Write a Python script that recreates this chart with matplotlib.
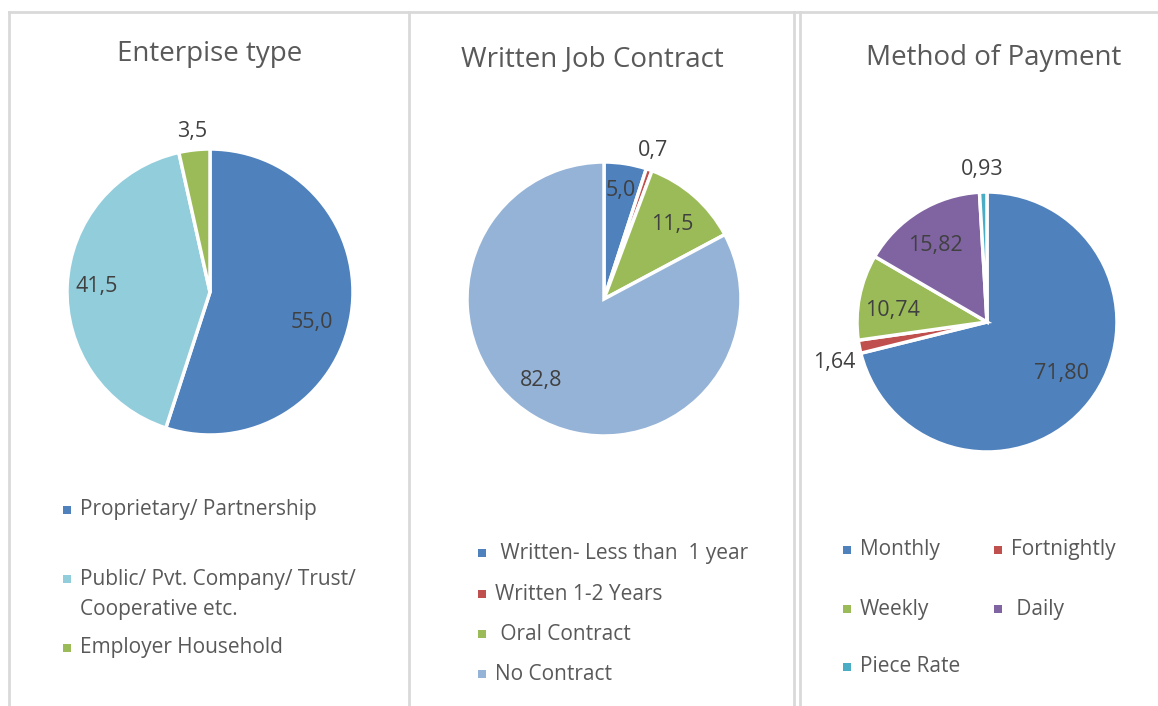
import numpy as np
import matplotlib
matplotlib.use("Agg")
import matplotlib.pyplot as plt
from matplotlib.patches import Rectangle

plt.rcParams['font.family'] = ['Open Sans', 'DejaVu Sans']

# data
ent_labels = ["Proprietary/ Partnership", "Public/ Pvt. Company/ Trust/\nCooperative etc.", "Employer Household"]
ent_values = [55.0, 41.5, 3.5]
ent_text = ["55,0", "41,5", "3,5"]

con_labels = [" Written- Less than  1 year", "Written 1-2 Years", " Oral Contract", "No Contract"]
con_values = [5.0, 0.7, 11.5, 82.8]
con_text = ["5,0", "0,7", "11,5", "82,8"]

pay_labels = ["Monthly", "Fortnightly", "Weekly", " Daily", "Piece Rate"]
pay_values = [71.80, 1.64, 10.74, 15.82, 0.93]
pay_text = ["71,80", "1,64", "10,74", "15,82", "0,93"]

BLUE, LBLUE, GREEN, RED, PURPLE, CYAN, PBLUE = "#4F81BD", "#92CDDC", "#9BBB59", "#C0504D", "#8064A2", "#4BACC6", "#95B3D7"
TXT = "#595959"
W, H = 1158, 706

fig = plt.figure(figsize=(W / 100, H / 100), dpi=100)
ax = fig.add_axes([0, 0, 1, 1])


def Y(y):
    return H - y


def draw_pie(values, colors, texts, center, radius, dist, shift):
    wedges, _ = ax.pie(values, colors=colors, startangle=90, counterclock=False,
                       center=(center[0], Y(center[1])), radius=radius, frame=True,
                       wedgeprops=dict(edgecolor="white", linewidth=2.5))
    for w, t, d, s in zip(wedges, texts, dist, shift):
        a = np.deg2rad((w.theta1 + w.theta2) / 2 + s)
        ax.text(center[0] + d * radius * np.cos(a), Y(center[1]) + d * radius * np.sin(a), t,
                ha="center", va="center", fontsize=15.5, color="#404040")


draw_pie(ent_values, [BLUE, LBLUE, GREEN], ent_text, (210, 292), 143,
         [0.74, 0.79, 1.13], [-7.5, 0, 0])
draw_pie(con_values, [BLUE, RED, GREEN, PBLUE], con_text, (604, 299), 137,
         [0.80, 1.14, 0.74, 0.75], [0, 1, -1.4, -6.5])
draw_pie(pay_values, [BLUE, RED, GREEN, PURPLE, CYAN], pay_text, (987, 322), 130,
         [0.70, 1.22, 0.73, 0.71, 1.17], [3.4, 4, 4.4, 2.5, 0])

# titles
ax.text(210, Y(54), "Enterpise type", ha="center", va="center", fontsize=20, color=TXT)
ax.text(592, Y(59), "Written Job Contract", ha="center", va="center", fontsize=20, color=TXT)
ax.text(994, Y(58), "Method of Payment", ha="center", va="center", fontsize=20, color=TXT)


def legend_item(x, y, color, label):
    ax.add_patch(Rectangle((x - 4, Y(y) - 4), 8, 8, color=color, lw=0))
    # wrapped legend entries: one line every 30 px
    for i, line in enumerate(label.split("\n")):
        ax.text(x + 13, Y(y + 30 * i), line, ha="left", va="center",
                fontsize=15, color=TXT)


for lab, col, y in zip(ent_labels, [BLUE, LBLUE, GREEN], [510, 579, 648]):
    legend_item(67, y, col, lab)

for lab, col, y in zip(con_labels, [BLUE, RED, GREEN, PBLUE], [553, 594, 634, 674]):
    legend_item(482, y, col, lab)

pay_pos = [(847, 550), (998, 550), (847, 609), (998, 609), (847, 667)]
for lab, col, (x, y) in zip(pay_labels, [BLUE, RED, GREEN, PURPLE, CYAN], pay_pos):
    legend_item(x, y, col, lab)

# panel borders
BC = "#D9D9D9"
ax.plot([9, W], [Y(12), Y(12)], color=BC, lw=2)
for x in [9, 409, 794, 800]:
    ax.plot([x, x], [Y(12), 0], color=BC, lw=2)

ax.set_xlim(0, W)
ax.set_ylim(0, H)
ax.set_aspect("auto")
ax.axis("off")

fig.savefig("out.png", dpi=100)
